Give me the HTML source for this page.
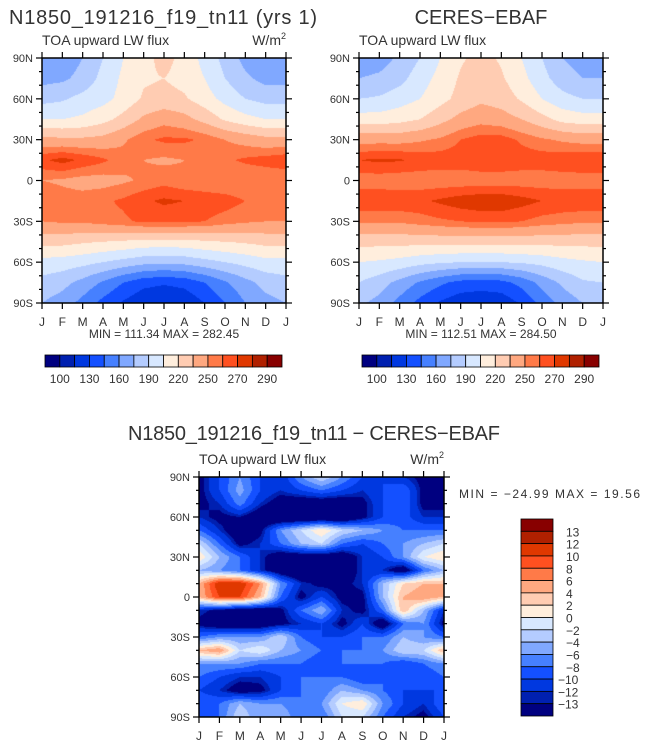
<!DOCTYPE html>
<html><head><meta charset="utf-8"><style>
html,body{margin:0;padding:0;background:#fff;}
#wrap{position:relative;width:645px;height:747px;overflow:hidden;}
canvas,svg{position:absolute;left:0;top:0;}
text{font-family:"Liberation Sans",sans-serif;fill:#333;}
</style></head><body>
<div id="wrap">
<canvas id="cv" width="645" height="747"></canvas>
<svg id="sv" width="645" height="747">
<text x="163" y="24" font-size="20" text-anchor="middle" textLength="308">N1850_191216_f19_tn11 (yrs 1)</text>
<text x="481" y="24" font-size="20" text-anchor="middle">CERES−EBAF</text>
<text x="314" y="440" font-size="20" text-anchor="middle" textLength="372">N1850_191216_f19_tn11 − CERES−EBAF</text>
<text x="459" y="498" font-size="12" textLength="181">MIN = −24.99 MAX =  19.56</text>
</svg>
</div>
<script>
const months=['J','F','M','A','M','J','J','A','S','O','N','D','J'];
const latLabels=['90N','60N','30N','0','30S','60S','90S'];
const absLevels=[100,115,130,145,160,175,190,205,220,235,250,260,270,280,290];
const absTickLabels=['100','130','160','190','220','250','270','290'];
const diffLevels=[-13,-12,-10,-8,-6,-4,-2,0,2,4,6,8,10,12,13];
const diffTickLabels=['13','12','10','8','6','4','2','0','−2','−4','−6','−8','−10','−12','−13'];
const colors=['#000080','#0020b0','#0038e0','#1450ff','#4680ff','#80a8ff','#b4ccff','#d8e8ff','#ffeedd','#ffccb2','#ffa880','#ff7a48','#ff5020','#e03800','#b02000','#880000'];
// model: rows 90N..90S step 15, cols Jan..Jan
const modelGrid=[
[160,165,175,190,205,215,225,215,200,185,170,160,160],
[170,172,180,195,208,218,220,215,205,190,178,170,170],
[185,188,195,200,210,222,225,222,212,200,190,185,185],
[205,205,208,215,225,238,245,240,230,218,210,205,205],
[240,238,238,240,248,258,262,262,258,250,245,240,240],
[268,274,268,262,255,250,248,250,252,258,262,265,268],
[250,248,245,245,248,252,256,252,250,250,250,250,250],
[258,255,255,258,262,268,272,270,268,265,260,258,258],
[250,252,252,255,258,262,262,262,260,255,252,250,250],
[225,225,222,220,218,215,215,215,218,220,222,225,225],
[200,198,195,190,185,180,178,180,185,190,195,200,200],
[185,180,170,158,145,135,132,135,145,158,170,180,185],
[175,168,155,140,128,118,115,118,130,145,160,170,175]];
const obsGrid=[
[165,168,178,190,205,218,225,218,205,190,175,168,165],
[175,178,185,198,210,222,228,222,210,195,182,175,175],
[190,192,198,205,215,225,232,228,218,205,195,190,190],
[212,212,215,220,230,240,245,242,235,225,215,212,212],
[245,245,245,248,252,260,265,265,258,252,248,245,245],
[270,272,271,268,266,266,268,268,266,266,268,270,270],
[254,254,253,253,253,253,254,254,254,254,254,254,254],
[268,268,268,268,272,276,278,278,274,270,268,268,268],
[252,252,252,255,258,260,262,262,260,256,254,252,252],
[225,225,225,225,225,225,225,225,225,225,225,225,225],
[205,203,200,195,192,190,190,190,192,195,200,203,205],
[190,182,170,158,148,140,138,140,150,165,178,188,190],
[178,170,155,140,128,120,118,120,132,150,165,175,178]];
// difference: rows 90N..90S step 10
const diffGrid=[
[-14,-10,-6,-10,-12,-6,-2,-6,-10,-10,-12,-14,-14],
[-14,-10,-5,-10,-12,-10,-8,-10,-12,-10,-8,-14,-14],
[-14,-12,-7,-12,-15,-16,-16,-16,-14,-10,-8,-14,-14],
[-12,-14,-13,-16,-18,-18,-18,-18,-14,-10,-9,-12,-12],
[-8,-12,-16,-14,-6,-2,2,-2,-4,-6,-8,-8,-8],
[-2,-8,-14,-12,-8,-4,-2,-8,-10,-8,-6,-4,-2],
[2,-4,-8,-12,-16,-16,-16,-16,-12,-10,-6,0,2],
[-4,-6,-8,-12,-16,-18,-18,-16,-12,-12,-16,-8,-4],
[4,12,12,6,-6,-12,-14,-14,-12,-4,2,4,4],
[4,10,10,4,-8,-14,-10,-14,-14,-4,4,6,4],
[-12,-14,-16,-16,-14,-8,-4,-12,-14,-8,4,-4,-12],
[-14,-16,-16,-16,-14,-12,-10,-14,-10,-16,-8,-6,-14],
[-8,-6,-6,-6,-2,-8,-10,-10,-8,-8,-4,-6,-8],
[4,6,-2,0,-4,-6,-8,-8,-8,-6,-2,-2,4],
[-6,-6,-6,-8,-8,-8,-10,-8,-8,-8,-10,-8,-6],
[-8,-10,-12,-12,-10,-8,-8,-8,-10,-8,-8,-10,-8],
[-10,-12,-15,-14,-10,-8,-8,-4,-6,-8,-10,-10,-10],
[-8,-8,-4,-6,-6,-8,-6,0,2,-6,-10,-12,-8],
[-10,-8,-2,-6,-4,-8,-8,-2,-2,-8,-12,-14,-10]];

const NS='http://www.w3.org/2000/svg';
const sv=document.getElementById('sv');
const ctx=document.getElementById('cv').getContext('2d');
function el(tag,attrs,parent){const e=document.createElementNS(NS,tag);for(const k in attrs)e.setAttribute(k,attrs[k]);(parent||sv).appendChild(e);return e;}
function hex(c){return [parseInt(c.substr(1,2),16),parseInt(c.substr(3,2),16),parseInt(c.substr(5,2),16)];}
const rgb=colors.map(hex);
function levelIndex(v,levels){let i=0;while(i<levels.length&&v>=levels[i])i++;return i;}

function drawField(box,grid,levels){
  const nr=grid.length,nc=grid[0].length;
  const img=ctx.createImageData(box.w,box.h);
  for(let py=0;py<box.h;py++){
    const v=(py+0.5)/box.h*(nr-1);const r0=Math.min(nr-2,Math.floor(v));const fy=v-r0;
    for(let px=0;px<box.w;px++){
      const u=(px+0.5)/box.w*(nc-1);const c0=Math.min(nc-2,Math.floor(u));const fx=u-c0;
      const val=(grid[r0][c0]*(1-fx)+grid[r0][c0+1]*fx)*(1-fy)+(grid[r0+1][c0]*(1-fx)+grid[r0+1][c0+1]*fx)*fy;
      const c=rgb[levelIndex(val,levels)];const o=(py*box.w+px)*4;
      img.data[o]=c[0];img.data[o+1]=c[1];img.data[o+2]=c[2];img.data[o+3]=255;
    }
  }
  ctx.putImageData(img,box.x,box.y);
}

function drawAxes(box,name,withUnits){
  const g=el('g',{});
  
  
  el('rect',{x:box.x,y:box.y,width:box.w,height:box.h,fill:'none',stroke:'#000','stroke-width':1.5},g);
  const mw=box.w/12;
  for(let i=0;i<13;i++){
    const x=box.x+i*mw;
    el('line',{x1:x,y1:box.y,x2:x,y2:box.y-6,stroke:'#000','stroke-width':1.2},g);
    el('line',{x1:x,y1:box.y+box.h,x2:x,y2:box.y+box.h+6,stroke:'#000','stroke-width':1.2},g);
    const t=el('text',{x:x,y:box.y+box.h+23,'font-size':12,'text-anchor':'middle'},g);t.textContent=months[i];
    
    
  }
  for(let j=0;j<=18;j++){
    const y=box.y+j*box.h/18;const major=j%3===0;const L=major?6:3;
    el('line',{x1:box.x,y1:y,x2:box.x-L,y2:y,stroke:'#000','stroke-width':1.2},g);
    el('line',{x1:box.x+box.w,y1:y,x2:box.x+box.w+L,y2:y,stroke:'#000','stroke-width':1.2},g);
    if(major){const t=el('text',{x:box.x-9,y:y+4,'font-size':11,'text-anchor':'end'},g);t.textContent=latLabels[j/3];
      
      }
  }
  const s=el('text',{x:box.x,y:box.y-13,'font-size':14},g);s.textContent='TOA upward LW flux';
  
  
  if(withUnits){const u=el('text',{x:box.x+box.w,y:box.y-13,'font-size':14,'text-anchor':'end'},g);
    u.innerHTML='W/m<tspan font-size="9" dy="-6">2</tspan>';
    
    }
}

function drawHBar(x0,y0,w,h,name){
  const g=el('g',{});
  
  
  const cw=w/colors.length;
  colors.forEach((c,i)=>{const r=el('rect',{x:x0+i*cw,y:y0,width:cw,height:h,fill:c,stroke:'#000','stroke-width':0.8},g);
    
    });
  absTickLabels.forEach((l,k)=>{const t=el('text',{x:x0+(2*k+1)*cw,y:y0+h+16,'font-size':12,'text-anchor':'middle'},g);t.textContent=l;
    
    });
}

const boxA={x:42,y:58,w:244,h:245}, boxB={x:359,y:58,w:244,h:245}, boxC={x:199,y:477,w:245,h:240};
drawField(boxA,modelGrid,absLevels);
drawField(boxB,obsGrid,absLevels);
drawField(boxC,diffGrid,diffLevels);
drawAxes(boxA,'model',true);
drawAxes(boxB,'obs',false);
drawAxes(boxC,'diff',true);
const tA=el('text',{x:164,y:338,'font-size':12,'text-anchor':'middle'});tA.textContent='MIN = 111.34  MAX = 282.45';


const tB=el('text',{x:481,y:338,'font-size':12,'text-anchor':'middle'});tB.textContent='MIN = 112.51  MAX = 284.50';


drawHBar(45,355,237,12,'model-colorbar');
drawHBar(362,355,237,12,'obs-colorbar');
(function(){
  const g=el('g',{});
  
  
  const x0=521,y0=519,w=32,h=197,ch=h/colors.length;
  for(let i=0;i<colors.length;i++){
    const r=el('rect',{x:x0,y:y0+i*ch,width:w,height:ch,fill:colors[colors.length-1-i],stroke:'#000','stroke-width':0.8},g);
    
    
  }
  diffTickLabels.forEach((l,k)=>{const t=el('text',{x:l.length>2?558:566,y:y0+(k+1)*ch+5,'font-size':12},g);t.textContent=l;
    
    });
})();
</script>
</body></html>
